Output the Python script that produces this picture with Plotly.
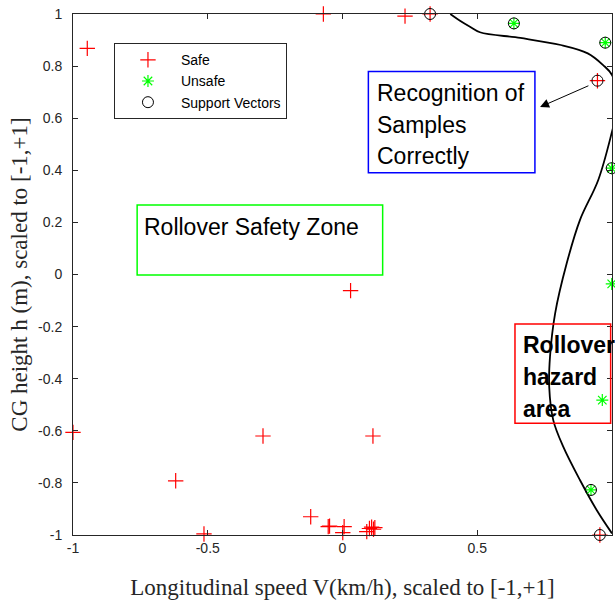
import plotly.graph_objects as go

# Samples (scaled speed, scaled CG height)
safe_x = [-0.947, -0.071, 0.232, 0.325, 0.946, 0.030, -1.0, -0.295, 0.113,
          -0.619, -0.514, -0.118, -0.053, -0.048, 0.006, 0.001, 0.090,
          0.100, 0.108, 0.115, 0.120, 0.955]
safe_y = [0.868, 1.0, 0.992, 1.0, 0.744, -0.062, -0.606, -0.62, -0.62,
          -0.792, -0.996, -0.930, -0.968, -0.966, -0.968, -0.991, -0.987,
          -0.975, -0.970, -0.978, -0.972, -1.0]

unsafe_x = [0.636, 0.975, 0.999, 0.999, 0.964, 0.922]
unsafe_y = [0.964, 0.890, 0.408, -0.036, -0.482, -0.827]

sv_x = [0.325, 0.946, 0.955, 0.636, 0.975, 0.999, 0.922]
sv_y = [1.0, 0.744, -1.0, 0.964, 0.890, 0.408, -0.827]

# Separating boundary of the classifier
boundary_x = [0.40, 0.436, 0.473, 0.51, 0.66, 0.81, 0.91, 0.967, 1.0, 1.025,
              1.0, 0.949, 0.881, 0.832, 0.789, 0.770, 0.767, 0.782, 0.819,
              0.881, 0.943, 1.0]
boundary_y = [1.0, 0.974, 0.951, 0.93, 0.908, 0.881, 0.849, 0.804, 0.766,
              0.66, 0.548, 0.363, 0.209, 0.043, -0.149, -0.315, -0.431,
              -0.559, -0.661, -0.789, -0.904, -0.994]

tick_vals_x = [-1, -0.5, 0, 0.5, 1]
tick_text_x = ["-1", "-0.5", "0", "0.5", "1"]
tick_vals_y = [1, 0.8, 0.6, 0.4, 0.2, 0, -0.2, -0.4, -0.6, -0.8, -1]
tick_text_y = ["1", "0.8", "0.6", "0.4", "0.2", "0", "-0.2", "-0.4", "-0.6", "-0.8", "-1"]

blue_lines = ["Recognition of", "Samples", "Correctly"]
red_lines = ["Rollover", "hazard", "area"]

SANS = "Liberation Sans, Arial, sans-serif"
SERIF = "Liberation Serif, Times New Roman, serif"
INK = "#262626"
NOTE_SIZE = 23

fig = go.Figure()

fig.add_trace(go.Scatter(
    x=boundary_x, y=boundary_y, mode="lines", line_shape="spline",
    line=dict(color="black", width=1.8, smoothing=1.0),
    showlegend=False, hoverinfo="skip"))

fig.add_trace(go.Scatter(
    x=safe_x, y=safe_y, mode="markers", name="Safe", cliponaxis=False,
    marker=dict(symbol="cross-thin-open", size=11, color="red",
                line=dict(color="red", width=1.2))))

fig.add_trace(go.Scatter(
    x=unsafe_x, y=unsafe_y, mode="markers", name="Unsafe", cliponaxis=False,
    marker=dict(symbol="asterisk-open", size=10, color="#00ff00",
                line=dict(color="#00ff00", width=1.2))))

fig.add_trace(go.Scatter(
    x=sv_x, y=sv_y, mode="markers", name="Support Vectors", cliponaxis=False,
    marker=dict(symbol="circle-open", size=11, color="black",
                line=dict(color="black", width=1))))

# Boxes around the region labels
fig.add_shape(type="rect", x0=-0.762, x1=0.149, y0=-0.002, y1=0.267,
              line=dict(color="#00ff00", width=1.5))
fig.add_shape(type="rect", x0=0.096, x1=0.714, y0=0.391, y1=0.779,
              line=dict(color="blue", width=1.5))
fig.add_shape(type="rect", x0=0.640, x1=0.995, y0=-0.571, y1=-0.190,
              line=dict(color="red", width=1.5))

fig.add_annotation(x=-0.744, y=0.182, text="Rollover Safety Zone", showarrow=False,
                   xanchor="left", yanchor="middle",
                   font=dict(family=SANS, size=NOTE_SIZE, color="black"))

for i, line in enumerate(blue_lines):
    fig.add_annotation(x=0.121, y=0.695 - i * 0.121, text=line, showarrow=False,
                       xanchor="left", yanchor="middle",
                       font=dict(family=SANS, size=NOTE_SIZE, color="black"))

for i, line in enumerate(red_lines):
    fig.add_annotation(x=0.662, y=-0.271 - i * 0.122, text="<b>" + line + "</b>",
                       showarrow=False, xanchor="left", yanchor="middle",
                       font=dict(family=SANS, size=NOTE_SIZE, color="black"))

# Arrow from the support vector to the note
fig.add_annotation(x=0.733, y=0.643, ax=0.918, ay=0.727, axref="x", ayref="y",
                   xref="x", yref="y", text="", showarrow=True,
                   arrowhead=2, arrowsize=1.8, arrowwidth=1, arrowcolor="black")

fig.update_layout(
    width=615, height=606,
    margin=dict(l=73, r=3, t=14, b=71),
    paper_bgcolor="white", plot_bgcolor="white",
    font=dict(family=SANS, size=14, color=INK),
    legend=dict(x=0.076, y=0.944, xanchor="left", yanchor="top",
                bgcolor="white", bordercolor=INK, borderwidth=1,
                font=dict(family=SANS, size=14, color="black"),
                tracegroupgap=0, itemwidth=56),
)

fig.update_xaxes(range=[-1, 1], tickvals=tick_vals_x, ticktext=tick_text_x,
                 ticks="inside", ticklen=5, tickcolor=INK, mirror="ticks",
                 showline=True, linecolor=INK, linewidth=1, showgrid=False,
                 zeroline=False, tickfont=dict(family=SANS, size=14, color=INK),
                 title=dict(text="Longitudinal speed V(km/h), scaled to [-1,+1]",
                            font=dict(family=SERIF, size=23, color=INK), standoff=24))
fig.update_yaxes(range=[-1, 1], tickvals=tick_vals_y, ticktext=tick_text_y,
                 ticks="inside", ticklen=5, tickcolor=INK, mirror="ticks",
                 showline=True, linecolor=INK, linewidth=1, showgrid=False,
                 zeroline=False, ticklabelstandoff=7,
                 tickfont=dict(family=SANS, size=14, color=INK),
                 title=dict(text="CG height h (m), scaled to [-1,+1]",
                            font=dict(family=SERIF, size=23, color=INK), standoff=4))

fig.write_html("out.html")
